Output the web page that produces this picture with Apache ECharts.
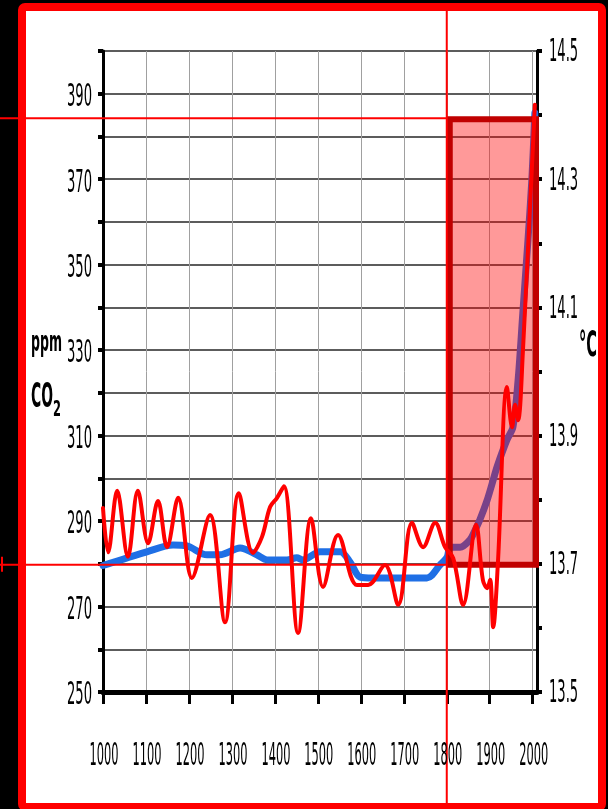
<!DOCTYPE html>
<html><head><meta charset="utf-8">
<script src="https://cdn.jsdelivr.net/npm/echarts@6/dist/echarts.min.js"></script>
<style>
html,body{margin:0;padding:0;background:#000;width:608px;height:809px;overflow:hidden;}
#frame{position:absolute;left:18px;top:3px;width:588px;height:808px;box-sizing:border-box;border:8px solid #ff0000;border-radius:7px;background:#fff;}
#chart{position:absolute;left:0;top:0;width:608px;height:809px;}
</style></head><body><div id="frame"></div><div id="chart"></div>
<script>
// ---- data ----
const yearTicks = [1000,1100,1200,1300,1400,1500,1600,1700,1800,1900,2000];
const ppmTickLabels = [250,270,290,310,330,350,370,390];
const tempTickLabels = ['13.5','13.7','13.9','14.1','14.3','14.5'];

const tempYears = [1000,1012,1033,1058,1081,1105,1128,1149,1175,1207,1249,1284,1316,1349,1370,1389,1405,1421,1454,1484,1512,1547,1591,1617,1656,1687,1719,1745,1773,1796,1815,1838,1868,1884,1894,1901,1908,1919,1940,1952,1959,1966,1977,2005];
const temps = [13.787,13.718,13.814,13.711,13.814,13.732,13.798,13.726,13.803,13.678,13.776,13.609,13.810,13.717,13.742,13.789,13.803,13.821,13.592,13.771,13.664,13.745,13.667,13.667,13.698,13.636,13.764,13.726,13.764,13.726,13.709,13.636,13.761,13.675,13.662,13.675,13.601,13.701,13.976,13.913,13.948,13.924,14.029,14.416];

const co2Years = [1000,1102,1163,1195,1242,1272,1319,1358,1382,1428,1451,1465,1505,1552,1575,1598,1628,1754,1784,1801,1808,1831,1854,1866,1877,1894,1908,1917,1940,1954,1966,1977,1989,1998,2005];
const co2 = [279.6,282.8,284.4,284.2,282.1,282.1,283.7,282.1,280.9,280.9,281.4,280.9,282.8,282.8,280.4,276.9,276.7,276.7,279.7,281.6,283.9,283.9,285.6,287.9,290.3,294.9,299.6,302.7,309.0,312.0,323.0,338.7,355.8,369.8,385.5];

const markYear = 1800;
const tempBand = [13.7, 14.395];

// ---- chart ----
const chart = echarts.init(document.getElementById('chart'), null, {renderer:'canvas'});
const option = {
  animation:false,
  backgroundColor:'transparent',
  grid:{left:103, right:71, top:51, bottom:117, containLabel:false},
  xAxis:{
    type:'value', min:1000, max:2010, interval:100,
    axisLine:{show:true, onZero:false, lineStyle:{color:'#000', width:5}},
    axisTick:{show:true, customValues:yearTicks, length:12, lineStyle:{color:'#000', width:3}},
    axisLabel:{show:false},
    splitLine:{show:true, lineStyle:{color:'#a0a0a0', width:1}}
  },
  yAxis:[
    {type:'value', position:'left', min:250, max:400, interval:10,
     axisLine:{show:true, onZero:false, lineStyle:{color:'#000', width:3}},
     axisTick:{show:true, length:5, lineStyle:{color:'#000', width:4}},
     axisLabel:{show:false},
     splitLine:{show:true, lineStyle:{color:'#262626', width:1.5}}},
    {type:'value', position:'right', min:13.5, max:14.5, interval:0.1,
     axisLine:{show:true, onZero:false, lineStyle:{color:'#000', width:3}},
     axisTick:{show:true, length:5, lineStyle:{color:'#000', width:4}},
     axisLabel:{show:false},
     splitLine:{show:false}}
  ],
  series:[
    {type:'line', name:'CO2', yAxisIndex:0, z:3, smooth:0.3, symbol:'none',
     data: co2Years.map((y,i)=>[y,co2[i]]),
     lineStyle:{color:'#1f6fe5', width:7, cap:'round', join:'round'}},
    {type:'line', name:'Temperature', yAxisIndex:1, z:20, smooth:0.35, symbol:'none',
     data: tempYears.map((y,i)=>[y,temps[i]]),
     lineStyle:{color:'#ff0000', width:4, cap:'round', join:'round'}}
  ]
};
chart.setOption(option);

// ---- labels and annotation ----
const X = v => chart.convertToPixel({xAxisIndex:0}, v);
const YL = v => chart.convertToPixel({yAxisIndex:0}, v);
const YR = v => chart.convertToPixel({yAxisIndex:1}, v);

const mctx = document.createElement('canvas').getContext('2d');
function measure(t, font){ mctx.font = font; return mctx.measureText(t).width; }
const FAM = '"Liberation Sans Narrow", "DejaVu Sans Condensed", sans-serif';
const TICK_FONT = 'normal 32px ' + FAM;
const sxTick = 25 / measure('390', TICK_FONT);
const sxYear = 29 / measure('1000', TICK_FONT);

function txt(text, x, y, font, align, sx){
  return {type:'text', x:x, y:y, scaleX:sx, z:40, silent:true,
    style:{text:text, font:font, fill:'#000', textAlign:align, textVerticalAlign:'middle'}};
}
const g = [];
ppmTickLabels.forEach(v => g.push(txt(String(v), 92, YL(v)+4, TICK_FONT, 'right', sxTick)));
tempTickLabels.forEach(v => g.push(txt(v, 549, YR(parseFloat(v))+2, TICK_FONT, 'left', sxTick)));
yearTicks.forEach(v => g.push(txt(String(v), X(v)+1, 757, TICK_FONT, 'center', sxYear)));

const F_PPM = 'bold 28px ' + FAM;
const F_CO = 'bold 34px ' + FAM;
const F_SUB = 'bold 22px ' + FAM;
const F_DEG = 'bold 35px ' + FAM;
g.push(txt('ppm', 31, 344, F_PPM, 'left', 31/measure('ppm',F_PPM)));
g.push(txt('CO', 31, 398, F_CO, 'left', 22/measure('CO',F_CO)));
g.push(txt('2', 53, 410, F_SUB, 'left', 8/measure('2',F_SUB)));
g.push(txt('°C', 579, 347, F_DEG, 'left', 18/measure('°C',F_DEG)));

const xm = X(markYear), xr = X(2010);
const yTop = YR(tempBand[1]), yBot = YR(tempBand[0]);
g.push({type:'rect', z:10, silent:true,
  shape:{x:xm+3, y:yTop+1, width:(xr-1)-(xm+3), height:yBot-yTop},
  style:{fill:'rgba(255,0,0,0.4)', stroke:'#c00000', lineWidth:6}});
const ln = (x1,y1,x2,y2) => ({type:'line', z:30, silent:true, shape:{x1,y1,x2,y2}, style:{stroke:'#ff0000', lineWidth:2}});
g.push(ln(xm, 11, xm, 809));
g.push(ln(0, yTop, xm, yTop));
g.push(ln(0, yBot+1, xm, yBot+1));
g.push(ln(2, yBot-7, 2, yBot+8));

chart.setOption({graphic:{elements:g}});
</script></body></html>
